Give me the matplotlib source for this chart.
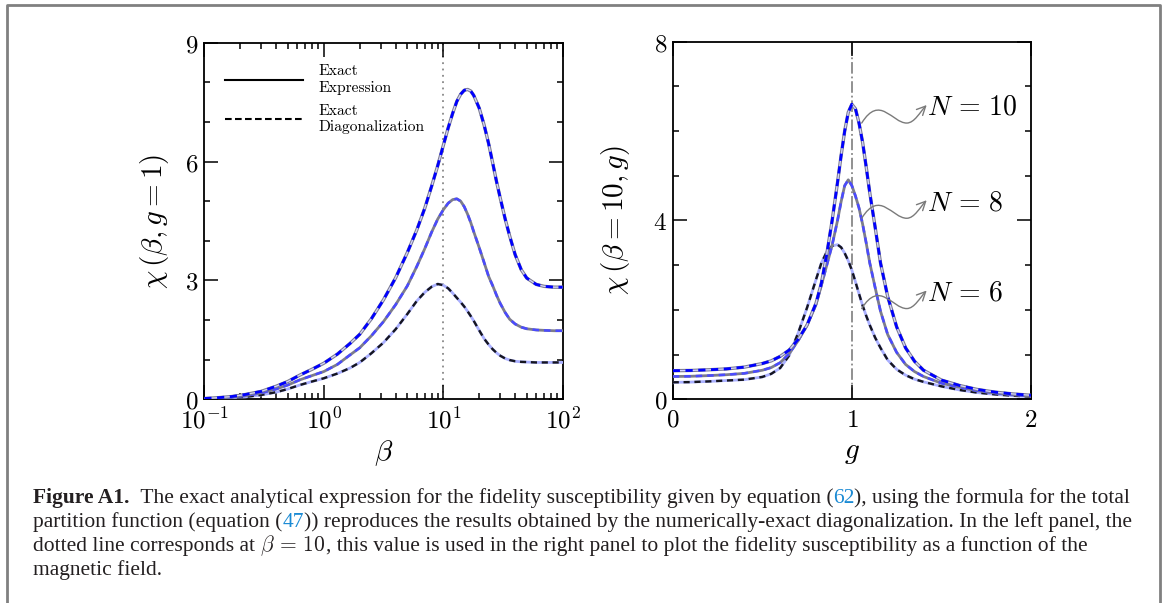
import numpy as np
import matplotlib
matplotlib.use("Agg")
import matplotlib.pyplot as plt
from matplotlib.lines import Line2D
from matplotlib.path import Path
from matplotlib.patches import FancyArrowPatch
import matplotlib.transforms as mtransforms
from matplotlib.ticker import FixedLocator, NullFormatter

plt.rcParams['mathtext.fontset'] = 'cm'

# ---- left panel: chi(beta, g=1) for N = 10, 8, 6 ----
beta = [0.1, 0.13, 0.17, 0.22, 0.3, 0.4, 0.5, 0.63, 0.8, 1.0, 1.3, 1.66, 2.0, 2.5, 3.16, 4.0,
        5.0, 6.0, 7.0, 8.0, 9.0, 10, 11, 12, 13, 14, 15, 16, 17, 18, 20, 22, 24, 26, 28, 30,
        33, 36, 40, 45, 50, 60, 70, 85, 100]
chi_beta_n10 = [0.02, 0.04, 0.07, 0.12, 0.20, 0.33, 0.45, 0.61, 0.76, 0.91, 1.14, 1.41, 1.64, 2.03, 2.51, 3.07,
                3.70, 4.27, 4.82, 5.38, 5.90, 6.40, 6.85, 7.22, 7.52, 7.70, 7.80, 7.82, 7.78, 7.67, 7.35, 6.92,
                6.45, 5.95, 5.48, 5.08, 4.55, 4.12, 3.65, 3.27, 3.06, 2.90, 2.85, 2.83, 2.83]
chi_beta_n8 = [0.01, 0.03, 0.05, 0.09, 0.16, 0.26, 0.36, 0.49, 0.60, 0.70, 0.88, 1.12, 1.30, 1.60, 1.96, 2.39,
               2.86, 3.35, 3.80, 4.22, 4.55, 4.78, 4.95, 5.04, 5.06, 5.00, 4.86, 4.67, 4.46, 4.23, 3.83, 3.45,
               3.10, 2.86, 2.62, 2.42, 2.19, 2.02, 1.90, 1.82, 1.78, 1.75, 1.74, 1.73, 1.73]
chi_beta_n6 = [0.01, 0.02, 0.04, 0.06, 0.11, 0.18, 0.26, 0.36, 0.45, 0.53, 0.65, 0.79, 0.93, 1.16, 1.43, 1.77,
               2.15, 2.48, 2.70, 2.84, 2.91, 2.88, 2.80, 2.68, 2.56, 2.45, 2.34, 2.22, 2.10, 1.98, 1.74, 1.53,
               1.38, 1.26, 1.17, 1.10, 1.03, 0.99, 0.96, 0.945, 0.94, 0.93, 0.93, 0.93, 0.93]
beta_marked = 10

# ---- right panel: chi(beta=10, g) ----
g = [0, 0.1, 0.2, 0.3, 0.4, 0.5, 0.55, 0.6, 0.65, 0.7, 0.75, 0.8, 0.83, 0.86, 0.89, 0.92, 0.94,
     0.96, 0.98, 1.0, 1.02, 1.04, 1.06, 1.08, 1.1, 1.13, 1.16, 1.2, 1.25, 1.3, 1.35, 1.4, 1.5,
     1.6, 1.7, 1.8, 1.9, 2.0]
chi_g_n10 = [0.64, 0.645, 0.66, 0.68, 0.72, 0.80, 0.86, 0.96, 1.10, 1.34, 1.66, 2.15, 2.60, 3.25, 4.0, 4.85, 5.45,
             6.0, 6.42, 6.6, 6.5, 6.18, 5.75, 5.2, 4.62, 3.85, 3.05, 2.3, 1.62, 1.15, 0.85, 0.65, 0.43,
             0.31, 0.22, 0.16, 0.12, 0.09]
chi_g_n8 = [0.51, 0.515, 0.53, 0.55, 0.58, 0.65, 0.71, 0.82, 1.02, 1.31, 1.66, 2.12, 2.55, 3.0, 3.45, 4.0, 4.42,
            4.78, 4.91, 4.78, 4.55, 4.28, 3.92, 3.5, 3.05, 2.5, 1.97, 1.45, 1.05, 0.78, 0.62, 0.51, 0.36,
            0.27, 0.19, 0.14, 0.10, 0.07]
chi_g_n6 = [0.38, 0.385, 0.40, 0.42, 0.44, 0.50, 0.57, 0.70, 0.98, 1.48, 2.05, 2.68, 3.05, 3.30, 3.43, 3.46, 3.40,
            3.27, 3.10, 2.89, 2.63, 2.36, 2.10, 1.87, 1.66, 1.38, 1.15, 0.88, 0.67, 0.54, 0.45, 0.39, 0.29,
            0.21, 0.15, 0.11, 0.08, 0.06]
g_marked = 1.0

n_labels = [r'$N\,=\,10$', r'$N\,=\,8$', r'$N\,=\,6$']
n_arrow_from = [(1.055, 6.18), (1.055, 4.05), (1.055, 2.03)]
n_text_y = [6.54, 4.41, 2.40]

legend_labels = ['Exact\nExpression', 'Exact\nDiagonalization']

W, H = 1165, 603
fig = plt.figure(figsize=(W / 100, H / 100), dpi=100)
ax1 = fig.add_axes([204.3 / W, 1 - 399.3 / H, 358.4 / W, 356.6 / H])
ax2 = fig.add_axes([672.7 / W, 1 - 399.3 / H, 358.3 / W, 357.6 / H])

dash = (0, (2.6, 2.0))


def draw_set(ax, x, y10, y8, y6):
    # N = 6 : light blue solid + black dashes
    ax.plot(x, y6, color='#aab0ff', lw=2.0, zorder=3)
    ax.plot(x, y6, color='#15151f', lw=1.7, ls=dash, zorder=3.1)
    # N = 8 : gray solid + blue dashes
    ax.plot(x, y8, color='#7c7c8c', lw=2.0, zorder=4)
    ax.plot(x, y8, color='#4a4aff', lw=1.8, ls=dash, zorder=4.1)
    # N = 10 : gray outlined solid + strong blue dashes
    ax.plot(x, y10, color='#7a7a90', lw=2.4, zorder=5)
    ax.plot(x, y10, color='#d4d4ff', lw=0.9, zorder=5.05)
    ax.plot(x, y10, color='#0000ff', lw=2.0, ls=dash, zorder=5.1)


for ax in (ax1, ax2):
    for s in ax.spines.values():
        s.set_linewidth(1.3)
    ax.tick_params(which='both', direction='in', top=True, right=True, width=1.1,
                   labelsize=18, color='black')
    ax.tick_params(which='major', length=10, pad=6)
    ax.tick_params(which='minor', length=4.5)

# left panel
draw_set(ax1, beta, chi_beta_n10, chi_beta_n8, chi_beta_n6)
ax1.axvline(beta_marked, color='#888888', ls=(0, (1, 2.5)), lw=1.3, zorder=1)
ax1.set_xscale('log')
ax1.set_xlim(0.1, 100)
ax1.set_ylim(0, 9)
ax1.set_xticks([0.1, 1, 10, 100], labels=[r'$10^{-1}$', r'$10^{0}$', r'$10^{1}$', r'$10^{2}$'])
ax1.xaxis.set_minor_locator(FixedLocator([m * 10.0 ** e for e in (-1, 0, 1) for m in range(2, 10)]))
ax1.xaxis.set_minor_formatter(NullFormatter())
ax1.set_yticks([0, 3, 6, 9], labels=['$0$', '$3$', '$6$', '$9$'])
ax1.yaxis.set_minor_locator(FixedLocator(range(10)))
ax1.tick_params(axis='y', pad=4)
ax1.set_xlabel(r'$\beta$', fontsize=21)
ax1.xaxis.set_label_coords(0.5, -0.15)
ax1.xaxis.label.set_va('center')
ax1.set_ylabel(r'$\chi\,(\beta, g = 1)$', fontsize=21)
ax1.yaxis.set_label_coords(-0.138, 0.5)
ax1.yaxis.label.set_va('center')

handles = [Line2D([], [], color='black', lw=1.5),
           Line2D([], [], color='black', lw=1.5, ls=(0, (3.2, 1.6)))]
ax1.legend(handles, legend_labels, loc='upper left', bbox_to_anchor=(0.05, 0.947),
           frameon=False, prop={'family': 'cmr10', 'size': 11.2}, handlelength=5.0,
           handletextpad=1.0, labelspacing=0.62, borderpad=0.2, borderaxespad=0)

# right panel
draw_set(ax2, g, chi_g_n10, chi_g_n8, chi_g_n6)
ax2.axvline(g_marked, color='#888888', ls='-.', lw=1.3, zorder=1)
ax2.set_xlim(0, 2)
ax2.set_ylim(0, 8)
ax2.set_xticks([0, 1, 2], labels=['$0$', '$1$', '$2$'])
ax2.set_yticks([0, 4, 8], labels=['$0$', '$4$', '$8$'])
ax2.yaxis.set_minor_locator(FixedLocator(range(9)))
ax2.tick_params(axis='y', pad=4)
ax2.set_xlabel(r'$g$', fontsize=21)
ax2.xaxis.set_label_coords(0.5, -0.148)
ax2.xaxis.label.set_va('center')
ax2.set_ylabel(r'$\chi\,(\beta = 10, g)$', fontsize=21)
ax2.yaxis.set_label_coords(-0.161, 0.5)
ax2.yaxis.label.set_va('center')

# wavy arrows to the N labels (shape in points, relative to the start point)
wave = Path([(0, 0), (13, 21), (22, 0), (32.4, 0), (38, 0), (42, 8), (46.8, 13)],
            [Path.MOVETO, Path.CURVE4, Path.CURVE4, Path.CURVE4,
             Path.CURVE4, Path.CURVE4, Path.CURVE4])
for lab, (g0, v0), ty in zip(n_labels, n_arrow_from, n_text_y):
    tr = mtransforms.Affine2D().scale(fig.dpi / 72.0) + mtransforms.ScaledTranslation(g0, v0, ax2.transData)
    arr = FancyArrowPatch(path=wave, arrowstyle='->,head_length=0.45,head_width=0.22',
                          mutation_scale=14, color='#7a7a7a', lw=1.0, transform=tr, zorder=6)
    ax2.add_artist(arr)
    ax2.text(1.417, ty, lab, fontsize=20, ha='left', va='center', zorder=7)

# caption
cap_font = {'family': 'Liberation Serif', 'size': 15.5, 'color': '#231f20'}
link = '#1a8ad4'
caption_lines = [
    [('Figure A1.', {'weight': 'bold'}),
     ('  The exact analytical expression for the fidelity susceptibility given by equation (', {}),
     ('62', {'color': link}), ('), using the formula for the total', {})],
    [('partition function (equation (', {}), ('47', {'color': link}),
     (')) reproduces the results obtained by the numerically-exact diagonalization. In the left panel, the', {})],
    [('dotted line corresponds at ', {}), (r'$\beta\,=\,10$', {}),
     (', this value is used in the right panel to plot the fidelity susceptibility as a function of the', {})],
    [('magnetic field.', {})],
]
caption_base = [503, 527, 551, 575]

renderer = fig.canvas.get_renderer()
for parts, yb in zip(caption_lines, caption_base):
    x = 33.0
    for txt, extra in parts:
        kw = dict(cap_font)
        kw.update(extra)
        t = fig.text(x / W, 1 - yb / H, txt, ha='left', va='baseline', **kw)
        x = t.get_window_extent(renderer).x1

# frame around the figure block
fig.add_artist(Line2D([7 / W, 7 / W, 1160 / W, 1160 / W], [0, 1 - 5 / H, 1 - 5 / H, 0],
                      transform=fig.transFigure, color='#808080', lw=2))

fig.savefig('out.png', dpi=100)
